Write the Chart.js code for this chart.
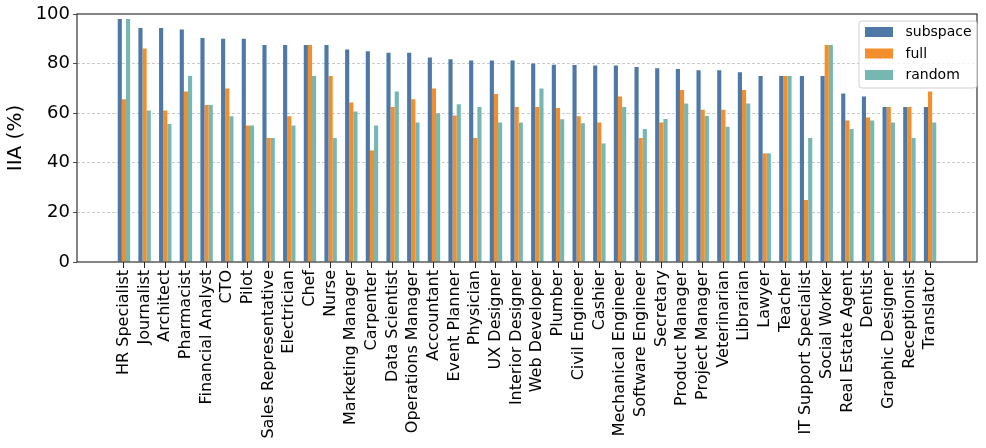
<!DOCTYPE html>
<html>
<head>
<meta charset="utf-8">
<script src="https://cdn.jsdelivr.net/npm/chart.js@4.4.1/dist/chart.umd.min.js"></script>
<style>
  html, body { margin: 0; padding: 0; background: #fff; }
  #wrap { width: 986px; height: 448px; }
</style>
</head>
<body>
<div id="wrap"><canvas id="c" width="986" height="448"></canvas></div>
<script>
const categories = ["HR Specialist","Journalist","Architect","Pharmacist","Financial Analyst","CTO","Pilot","Sales Representative","Electrician","Chef","Nurse","Marketing Manager","Carpenter","Data Scientist","Operations Manager","Accountant","Event Planner","Physician","UX Designer","Interior Designer","Web Developer","Plumber","Civil Engineer","Cashier","Mechanical Engineer","Software Engineer","Secretary","Product Manager","Project Manager","Veterinarian","Librarian","Lawyer","Teacher","IT Support Specialist","Social Worker","Real Estate Agent","Dentist","Graphic Designer","Receptionist","Translator"];

const subspace = [98.0, 94.4, 94.4, 93.8, 90.3, 90.0, 90.0, 87.5, 87.5, 87.5, 87.5, 85.7, 85.0, 84.4, 84.4, 82.5, 81.8, 81.3, 81.3, 81.3, 80.0, 79.5, 79.4, 79.2, 79.2, 78.6, 78.1, 77.8, 77.3, 77.3, 76.5, 75.0, 75.0, 75.0, 75.0, 67.9, 66.7, 62.5, 62.5, 62.5];
const full = [65.6, 86.1, 61.1, 68.8, 63.3, 70.0, 55.0, 50.0, 58.8, 87.5, 75.0, 64.3, 45.0, 62.5, 65.6, 70.0, 59.1, 50.0, 67.7, 62.5, 62.5, 62.1, 58.8, 56.3, 66.7, 50.0, 56.3, 69.4, 61.4, 61.4, 69.4, 43.8, 75.0, 25.0, 87.5, 57.1, 58.3, 62.5, 62.5, 68.8];
const random = [98.0, 61.1, 55.6, 75.0, 63.3, 58.8, 55.0, 50.0, 55.0, 75.0, 50.0, 60.7, 55.0, 68.8, 56.3, 60.0, 63.6, 62.5, 56.3, 56.3, 70.0, 57.6, 55.9, 47.8, 62.5, 53.6, 57.7, 63.9, 58.9, 54.5, 63.9, 43.8, 75.0, 50.0, 87.5, 53.6, 57.1, 56.3, 50.0, 56.3];

const yTicks = [0, 20, 40, 60, 80, 100];
const seriesNames = ["subspace", "full", "random"];
const seriesColors = ["#4e79a7", "#f28e2b", "#76b7b2"];

const FONT = "DejaVu Sans";

function toPoints(arr) { return arr.map((v, i) => ({ x: i, y: v })); }

const frameAndLegend = {
  id: 'frameAndLegend',
  afterDraw(chart) {
    const ctx = chart.ctx;
    const a = chart.chartArea;
    ctx.save();
    // spines
    ctx.strokeStyle = '#333';
    ctx.lineWidth = 1.2;
    ctx.strokeRect(a.left, a.top, a.right - a.left, a.bottom - a.top);
    // legend
    const w = 118, h = 67;
    const x0 = a.right - w, y0 = a.top + 7;
    ctx.beginPath();
    const r = 3;
    ctx.moveTo(x0 + r, y0);
    ctx.lineTo(x0 + w - r, y0); ctx.quadraticCurveTo(x0 + w, y0, x0 + w, y0 + r);
    ctx.lineTo(x0 + w, y0 + h - r); ctx.quadraticCurveTo(x0 + w, y0 + h, x0 + w - r, y0 + h);
    ctx.lineTo(x0 + r, y0 + h); ctx.quadraticCurveTo(x0, y0 + h, x0, y0 + h - r);
    ctx.lineTo(x0, y0 + r); ctx.quadraticCurveTo(x0, y0, x0 + r, y0);
    ctx.closePath();
    ctx.fillStyle = 'rgba(255,255,255,0.8)';
    ctx.fill();
    ctx.strokeStyle = '#d0d0d0';
    ctx.lineWidth = 1;
    ctx.stroke();
    ctx.font = '14px "' + FONT + '"';
    ctx.textBaseline = 'middle';
    ctx.textAlign = 'left';
    chart.data.datasets.forEach((ds, i) => {
      const cy = y0 + 11 + i * 21.5;
      ctx.fillStyle = ds.backgroundColor;
      ctx.fillRect(x0 + 6, cy - 5, 28, 10);
      ctx.fillStyle = '#000';
      ctx.fillText(ds.label, x0 + 46.5, cy + 0.5);
    });
    ctx.restore();
  }
};

new Chart(document.getElementById('c'), {
  type: 'bar',
  data: {
    datasets: [
      { label: seriesNames[0], data: toPoints(subspace), backgroundColor: seriesColors[0] },
      { label: seriesNames[1], data: toPoints(full), backgroundColor: seriesColors[1] },
      { label: seriesNames[2], data: toPoints(random), backgroundColor: seriesColors[2] }
    ]
  },
  options: {
    responsive: false,
    animation: false,
    devicePixelRatio: 1,
    layout: { padding: { top: 14, right: 9, left: 0, bottom: 0 } },
    datasets: { bar: { categoryPercentage: 0.6, barPercentage: 1.0, borderWidth: 0 } },
    plugins: { legend: { display: false }, tooltip: { enabled: false } },
    scales: {
      x: {
        type: 'linear',
        min: -2.27,
        max: 41.27,
        offset: false,
        afterBuildTicks: (scale) => { scale.ticks = categories.map((_, i) => ({ value: i })); },
        afterFit: (scale) => { scale.height = 186; },
        ticks: {
          autoSkip: false,
          minRotation: 90,
          maxRotation: 90,
          padding: 2,
          color: '#000',
          font: { family: FONT, size: 16 },
          callback: (v) => categories[v]
        },
        grid: { display: true, offset: false, drawOnChartArea: false, drawTicks: true, tickLength: 6, tickColor: '#222', tickWidth: 1 },
        border: { display: false }
      },
      y: {
        min: 0,
        max: 100,
        afterBuildTicks: (scale) => { scale.ticks = yTicks.map(v => ({ value: v })); },
        afterFit: (scale) => { scale.width = 77; },
        ticks: {
          padding: 3,
          color: '#000',
          font: { family: FONT, size: 18 }
        },
        grid: {
          drawTicks: true,
          tickLength: 4,
          tickColor: '#222',
          lineWidth: 0.8,
          color: (ctx) => (ctx.tick && (ctx.tick.value === 0 || ctx.tick.value === 100)) ? 'rgba(0,0,0,0)' : '#bdbdbd'
        },
        border: { display: false, dash: [3, 2] },
        title: {
          display: true,
          text: 'IIA (%)',
          color: '#000',
          font: { family: FONT, size: 20 },
          padding: { top: 3.5, bottom: 0 }
        }
      }
    }
  },
  plugins: [frameAndLegend]
});
</script>
</body>
</html>
